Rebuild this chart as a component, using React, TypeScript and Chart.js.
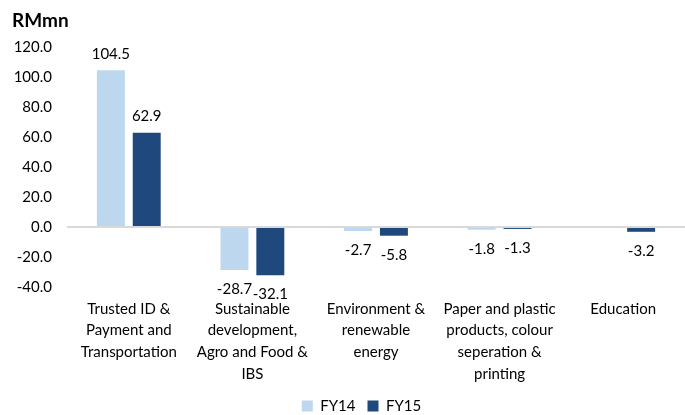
import React, { useEffect, useRef } from "react";
import { Chart, registerables } from "chart.js";

Chart.register(...registerables);

const categories: string[][] = [
  ["Trusted ID &", "Payment and", "Transportation"],
  ["Sustainable", "development,", "Agro and Food &", "IBS"],
  ["Environment &", "renewable", "energy"],
  ["Paper and plastic", "products, colour", "seperation &", "printing"],
  ["Education"],
];
const fy14: (number | null)[] = [104.5, -28.7, -2.7, -1.8, null];
const fy15: (number | null)[] = [62.9, -32.1, -5.8, -1.3, -3.2];
const seriesNames = ["FY14", "FY15"];
const yTicks = { min: -40, max: 120, step: 20 };
const unitTitle = "RMmn";

const FONT = "Lato, 'Open Sans', sans-serif";

const labelsPlugin = {
  id: "valueLabels",
  afterLayout(chart: any) {
    const l = chart.legend;
    if (l) {
      l.left += 19;
      l.right += 19;
      const shift = 405 - (l.top + l.height / 2);
      l.top += shift;
      l.bottom += shift;
    }
    const x = chart.scales.x;
    if (x) x.bottom += 20;
  },
  afterDatasetsDraw(chart: any) {
    const ctx = chart.ctx;
    ctx.save();
    ctx.font = `15px ${FONT}`;
    ctx.fillStyle = "#000";
    ctx.textAlign = "center";
    chart.data.datasets.forEach((ds: any, di: number) => {
      const meta = chart.getDatasetMeta(di);
      meta.data.forEach((el: any, i: number) => {
        const v = ds.data[i];
        if (v === null || v === undefined) return;
        const txt = v.toFixed(1);
        if (v >= 0) {
          ctx.textBaseline = "bottom";
          ctx.fillText(txt, el.x, el.y - 9);
        } else {
          ctx.textBaseline = "top";
          ctx.fillText(txt, el.x, el.y + 12);
        }
      });
    });
    ctx.font = `bold 19px ${FONT}`;
    ctx.textAlign = "left";
    ctx.textBaseline = "alphabetic";
    ctx.fillText(unitTitle, 12, 27);
    ctx.restore();
  },
};

export default function App() {
  const ref = useRef<HTMLCanvasElement>(null);
  useEffect(() => {
    document.body.style.margin = "0";
    const chart = new Chart(ref.current!, {
      type: "bar",
      data: {
        labels: categories,
        datasets: [
          { label: seriesNames[0], data: fy14, backgroundColor: "#BDD7EE" },
          { label: seriesNames[1], data: fy15, backgroundColor: "#1F497D" },
        ],
      },
      options: {
        responsive: false,
        animation: false,
        devicePixelRatio: 1,
        layout: { padding: { top: 47, right: 0, bottom: 0, left: 0 } },
        datasets: { bar: { categoryPercentage: 0.58, barPercentage: 0.78 } },
        scales: {
          x: {
            grid: { display: false },
            border: { display: false },
            ticks: {
              color: "#000",
              font: { family: FONT, size: 15, lineHeight: 1.45 },
              maxRotation: 0,
              autoSkip: false,
              padding: 3,
            },
            afterFit: (s: any) => {
              s.height = 91;
            },
          },
          y: {
            min: yTicks.min,
            max: yTicks.max,
            border: { display: false },
            grid: {
              drawTicks: false,
              color: (c: any) => (c.tick && c.tick.value === 0 ? "#d9d9d9" : "transparent"),
              lineWidth: 2,
            },
            ticks: {
              stepSize: yTicks.step,
              color: "#000",
              font: { family: FONT, size: 15 },
              padding: 15,
              callback: (v: any) => Number(v).toFixed(1),
            },
            afterFit: (s: any) => {
              s.width = 67;
            },
          },
        },
        plugins: {
          legend: {
            position: "bottom",
            labels: {
              color: "#000",
              font: { family: FONT, size: 15 },
              boxWidth: 11,
              boxHeight: 11,
              padding: 12,
            },
          },
          tooltip: { enabled: false },
          title: { display: false },
        },
      },
      plugins: [labelsPlugin],
    });
    return () => chart.destroy();
  }, []);
  return (
    <div style={{ width: 685, height: 415 }}>
      <canvas ref={ref} width={685} height={415} />
    </div>
  );
}
